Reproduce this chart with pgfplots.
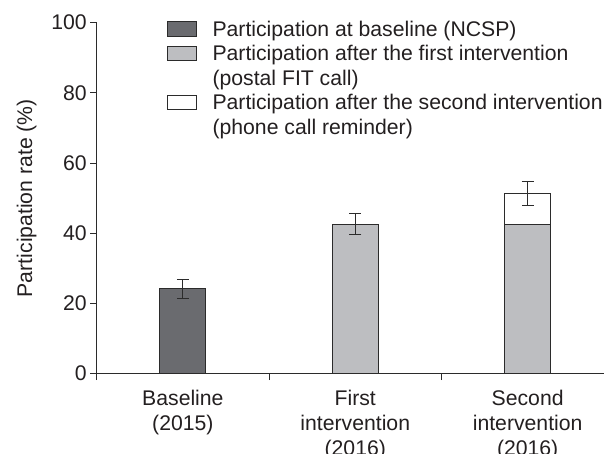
\documentclass[border=0pt]{standalone}
\usepackage{pgfplots}
\pgfplotsset{compat=1.18}
\usepackage{fontspec}
\setmainfont{Liberation Sans}
\definecolor{txt}{HTML}{231F20}
\definecolor{axcol}{HTML}{2B2B2B}
\definecolor{darkbar}{HTML}{6A6B6F}
\definecolor{lightbar}{HTML}{BDBEC1}
\newcommand{\chartfont}{\fontsize{21.2bp}{25bp}\selectfont}
\begin{document}
\begin{tikzpicture}
\useasboundingbox (0,0) rectangle (604bp,454bp);
\begin{axis}[
  at={(96.7bp,80.3bp)}, anchor=south west,
  scale only axis, width=507.3bp, height=351bp,
  xmin=-0.5, xmax=2.443, ymin=0, ymax=100,
  axis x line=bottom, axis y line=left,
  axis line style={-, draw=axcol, line width=0.9bp},
  tick align=outside,
  major tick length=6.5bp,
  tick style={draw=axcol, line width=0.9bp},
  ytick={0,20,40,60,80,100},
  xtick={-0.5,0.5,1.5}, xticklabels={},
  extra x ticks={0,1,2},
  extra x tick labels={{Baseline\\(2015)},{First\\intervention\\(2016)},{Second\\intervention\\(2016)}},
  extra x tick style={major tick length=0pt, xticklabel style={align=center, anchor=north, inner sep=0pt, yshift=-16.3bp}},
  /pgf/number format/assume math mode=true,
  ticklabel style={font=\chartfont, text=txt},
  every axis y label/.style={at={(axis description cs:-0.138,0.5)}, rotate=90, anchor=center, font=\chartfont, text=txt},
  ylabel={Participation rate (\%)},
  ybar, bar width=46bp, bar shift=0pt,
  legend image code/.code={\draw[#1, draw=axcol, line width=0.9bp] (0bp,-5.5bp) rectangle (29bp,9.2bp); \path (45bp,0bp);},
  legend cell align=left,
  legend style={at={(axis description cs:0.138,1.0077)}, anchor=north west, draw=none, fill=none,
    inner sep=0pt, column sep=0pt, row sep=3.5bp, font=\chartfont, text=txt,
    nodes={inner xsep=0pt, inner ysep=0pt, text height=16bp, text depth=5bp}},
  error bars/error bar style={draw=axcol, line width=1bp},
  error bars/error mark options={rotate=90, draw=axcol, line width=1bp, mark size=6bp},
]
\addlegendimage{fill=darkbar}
\addlegendentry{Participation at baseline (NCSP)}
\addlegendimage{fill=lightbar}
\addlegendentry{Participation after the first intervention}
\addlegendimage{empty legend}
\addlegendentry{(postal FIT call)}
\addlegendimage{fill=white}
\addlegendentry{Participation after the second intervention}
\addlegendimage{empty legend}
\addlegendentry{(phone call reminder)}

% white (second intervention total)
\addplot[forget plot, fill=white, draw=axcol, line width=0.9bp,
  error bars/.cd, y dir=both, y explicit]
  coordinates {(2,51.3) +- (0,3.4)};
% light grey (first intervention)
\addplot[forget plot, fill=lightbar, draw=axcol, line width=0.9bp,
  error bars/.cd, y dir=both, y explicit]
  coordinates {(1,42.6) +- (0,3.0)};
\addplot[forget plot, fill=lightbar, draw=axcol, line width=0.9bp]
  coordinates {(2,42.4)};
% dark (baseline)
\addplot[forget plot, fill=darkbar, draw=axcol, line width=0.9bp,
  error bars/.cd, y dir=both, y explicit]
  coordinates {(0,24.2) +- (0,2.7)};
\end{axis}
\end{tikzpicture}
\end{document}
